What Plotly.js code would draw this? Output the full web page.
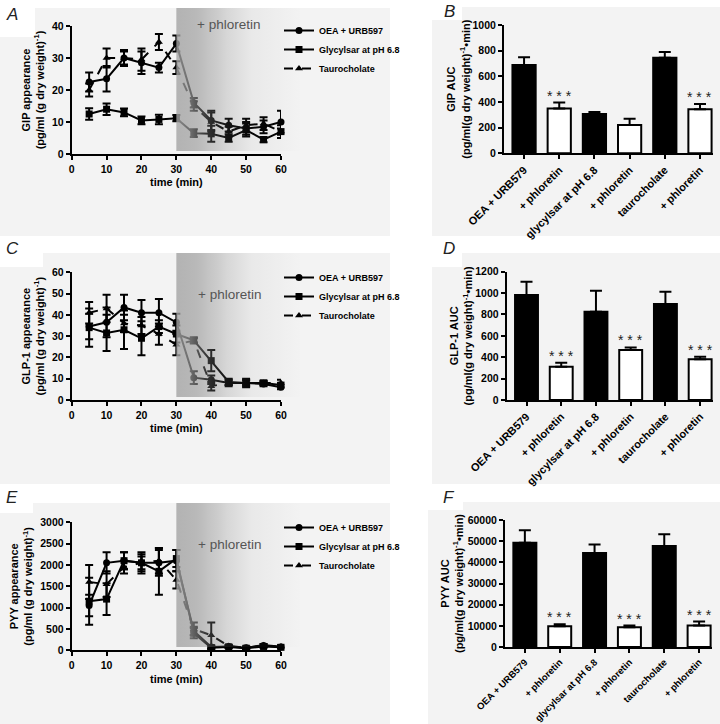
<!DOCTYPE html>
<html><head><meta charset="utf-8">
<script src="https://cdn.plot.ly/plotly-3.0.1.min.js"></script>
<style>html,body{margin:0;padding:0;background:#fff}#chart{width:720px;height:724px}</style>
</head><body><div id="chart"></div>
<script>
// ---------- data ----------
const timeMin = [5,10,15,20,25,30,35,40,45,50,55,60];
const seriesNames = ["OEA + URB597","Glycylsar at pH 6.8","Taurocholate"];
const phloretinStart = 30;
const shadeEnd = 66;

const gipOEA    = [22.5,23.5,30,28.5,27,34.5,16,10.5,9,8,8.5,10];
const gipOEAerr = [3,4,2.5,3.5,1.5,2.5,1.5,3,2,2,2,3.5];
const gipGly    = [12.5,14,13,10.5,10.8,11.2,6.5,6.3,5,7.5,4.5,7];
const gipGlyErr = [1.8,1.8,1.2,1.2,1.5,1,1.2,2.5,1.2,2,0.8,1];
const gipTau    = [20,30,30,29.5,35,27,15,10,7,9,9.5,7];
const gipTauErr = [2,3,2,3.5,2.5,2,1.5,3,1.5,2,2,2];

const glpOEA    = [34.5,36.5,43.5,41,41,36.5,10.5,9.5,8,8,7.5,6];
const glpOEAerr = [6,7,6,6,6.5,4,3,2,1.5,1.5,1,1];
const glpGly    = [34,31.5,33,29,34.5,31,28,18.5,8.5,8,8,7];
const glpGlyErr = [9,8.5,9,8,3,4,1,5,1.5,2,1,1];
const glpTau    = [41,43,36,35,31,26,28,6.5,8,8,8,8];
const glpTauErr = [5,6.5,4,4,5,5,1.5,2,1,1,1,1.5];

const pyyOEA    = [1050,2050,2100,2050,2050,2100,450,80,90,60,110,80];
const pyyOEAerr = [250,250,200,200,300,250,100,40,30,30,30,30];
const pyyGly    = [1150,1200,2100,2050,1850,2150,400,60,80,50,90,70];
const pyyGlyErr = [550,370,200,250,550,200,120,40,30,30,30,30];
const pyyTau    = [1600,1550,1950,2050,2100,1650,500,350,100,60,120,90];
const pyyTauErr = [400,300,150,150,300,200,150,300,30,30,30,30];

const barLabels = ["OEA + URB579","+ phloretin","glycylsar at pH 6.8","+ phloretin","taurocholate","+ phloretin"];
const gipAUC    = [688,350,306,221,745,343];
const gipAUCerr = [60,45,16,49,45,41];
const gipStars  = [false,true,false,false,false,true];
const glpAUC    = [982,312,826,468,898,380];
const glpAUCerr = [124,37,196,24,115,25];
const glpStars  = [false,true,false,true,false,true];
const pyyAUC    = [49200,9840,44375,9375,47660,10156];
const pyyAUCerr = [5950,940,4065,780,5620,1875];
const pyyStars  = [false,true,false,true,false,true];

// ---------- helpers ----------
const W=720,H=724;
const px = v => v/W;
const py = v => 1 - v/H;
const FONT = "Liberation Sans, Arial, sans-serif";
const symbols = ['circle','square','triangle-up'];
const dashes = ['solid','solid','dash'];
const barIdx = barLabels.map((_,i)=>i);
const barFill = barLabels.map((_,i)=> i%2===0 ? '#000' : '#fff');

function lineTrace(k, y, err, xa, ya, leg){
  return {type:'scatter', mode:'lines+markers', x:timeMin, y:y, name:seriesNames[k],
    xaxis:xa, yaxis:ya, legend:leg, cliponaxis:false, hoverinfo:'skip',
    line:{color:'#000', width:2, dash:dashes[k]},
    marker:{symbol:symbols[k], size:7, color:'#000'},
    error_y:{type:'data', array:err, visible:true, color:'#000', thickness:2, width:4}};
}
function barTrace(v, e, xa, ya){
  return {type:'bar', x:barIdx, y:v, xaxis:xa, yaxis:ya, width:0.66, showlegend:false, hoverinfo:'skip',
    marker:{color:barFill, line:{color:'#000', width:2}},
    error_y:{type:'data', symmetric:false, array:e, arrayminus:e.map(()=>0), color:'#000', thickness:2, width:6}};
}
const OVER_SCALE = [[0,'rgba(165,165,165,0.82)'],[0.12,'rgba(155,155,155,0.68)'],[0.25,'rgba(125,125,125,0.40)'],[0.4,'rgba(100,100,100,0.2)'],[0.6,'rgba(100,100,100,0.07)'],[1,'rgba(100,100,100,0)']];
function shadeTrace(xa, ya){
  return {type:'scatter', x:[phloretinStart,shadeEnd,shadeEnd,phloretinStart,phloretinStart], y:[0,0,1,1,0],
    xaxis:xa, yaxis:ya, mode:'none', fill:'toself', showlegend:false, hoverinfo:'skip',
    fillgradient:{type:'horizontal', start:phloretinStart, stop:shadeEnd, colorscale:OVER_SCALE}};
}

const traces = [
  lineTrace(0,gipOEA,gipOEAerr,'x','y','legend'),
  lineTrace(1,gipGly,gipGlyErr,'x','y','legend'),
  lineTrace(2,gipTau,gipTauErr,'x','y','legend'),
  barTrace(gipAUC,gipAUCerr,'x2','y2'),
  lineTrace(0,glpOEA,glpOEAerr,'x3','y3','legend2'),
  lineTrace(1,glpGly,glpGlyErr,'x3','y3','legend2'),
  lineTrace(2,glpTau,glpTauErr,'x3','y3','legend2'),
  barTrace(glpAUC,glpAUCerr,'x4','y4'),
  lineTrace(0,pyyOEA,pyyOEAerr,'x5','y5','legend3'),
  lineTrace(1,pyyGly,pyyGlyErr,'x5','y5','legend3'),
  lineTrace(2,pyyTau,pyyTauErr,'x5','y5','legend3'),
  barTrace(pyyAUC,pyyAUCerr,'x6','y6'),
  shadeTrace('x7','y7'),
  shadeTrace('x8','y8'),
  shadeTrace('x9','y9')
];

const tickFont = {family:FONT, size:10.5, color:'#000', weight:'bold'};
const titleFont = {family:FONT, size:11, color:'#000', weight:'bold'};
const axBase = {showgrid:false, zeroline:false, showline:true, linecolor:'#000', linewidth:2,
  ticks:'outside', ticklen:4, tickwidth:2, tickcolor:'#000', tickfont:tickFont, fixedrange:true, automargin:false};

function timeX(anchor){
  return Object.assign({}, axBase, {domain:[px(71.7),px(281)], range:[0,60], tick0:0, dtick:10, anchor:anchor,
    title:{text:'time (min)', font:titleFont, standoff:5}});
}
function timeY(anchor, top, bot, max, dt, title){
  return Object.assign({}, axBase, {domain:[py(bot),py(top)], range:[0,max], tick0:0, dtick:dt, anchor:anchor,
    tickformat:'d', title:{text:title, font:titleFont, standoff:5}});
}
function barX(anchor, x0, x1, fs){
  return Object.assign({}, axBase, {domain:[px(x0),px(x1)], range:[-0.57,5.37], tickvals:barIdx, ticktext:barLabels,
    tickangle:-45, tickfont:{family:FONT, size:fs, color:'#000', weight:'bold'}, anchor:anchor});
}
function barY(anchor, top, bot, max, dt, title, so){
  return Object.assign({}, axBase, {domain:[py(bot),py(top)], range:[0,max], tick0:0, dtick:dt, anchor:anchor,
    tickformat:'d', title:{text:title, font:titleFont, standoff:so}});
}
function overX(anchor){
  return {domain:[px(71.7), px(71.7 + shadeEnd*(281-71.7)/60)], range:[0,shadeEnd], visible:false, fixedrange:true, anchor:anchor};
}
function overY(anchor, top, bot){
  return {domain:[py(bot),py(top)], range:[0,1], visible:false, fixedrange:true, anchor:anchor};
}

const unitLine = '(pg/ml (g dry weight)<sup>-1</sup>)';
const aucLine = '(pg/ml(g dry weight)<sup>-1</sup>•min)';
const legFont = {family:FONT,size:9,weight:'bold',color:'#000'};

const layout = {
  width:W, height:H, margin:{l:0,r:0,t:0,b:0},
  paper_bgcolor:'#fff', plot_bgcolor:'rgba(0,0,0,0)',
  font:{family:FONT, color:'#000'},
  xaxis: timeX('y'),
  yaxis: timeY('x', 26, 154, 40, 10, 'GIP appearance<br>'+unitLine),
  xaxis2: barX('y2', 504, 713, 11),
  yaxis2: barY('x2', 25, 153.3, 1000, 200, 'GIP AUC<br>'+aucLine, 0),
  xaxis3: timeX('y3'),
  yaxis3: timeY('x3', 272.3, 400, 60, 10, 'GLP-1 appearance<br>'+unitLine),
  xaxis4: barX('y4', 506.7, 713, 11),
  yaxis4: barY('x4', 271.7, 400, 1200, 200, 'GLP-1 AUC<br>'+aucLine, 0),
  xaxis5: timeX('y5'),
  yaxis5: timeY('x5', 522.3, 650.3, 3000, 500, 'PYY appearance<br>'+unitLine),
  xaxis6: barX('y6', 505, 712, 9.5),
  yaxis6: barY('x6', 520, 647, 60000, 10000, 'PYY AUC<br>'+aucLine, 2),
  xaxis7: overX('y7'), yaxis7: overY('x7', 8, 151),
  xaxis8: overX('y8'), yaxis8: overY('x8', 253, 397),
  xaxis9: overX('y9'), yaxis9: overY('x9', 503, 647),
  legend:  {x:px(279), y:py(16), xanchor:'left', yanchor:'top', bgcolor:'rgba(0,0,0,0)', font:legFont},
  legend2: {x:px(279), y:py(263), xanchor:'left', yanchor:'top', bgcolor:'rgba(0,0,0,0)', font:legFont},
  legend3: {x:px(279), y:py(513), xanchor:'left', yanchor:'top', bgcolor:'rgba(0,0,0,0)', font:legFont},
  shapes: [],
  annotations: []
};

// panel backgrounds
const panels = [[0,8,390,236],[432,7,720,236],[0,253,390,484],[432,253,720,484],[0,503,390,724],[428,502,720,724]];
panels.forEach(p=>layout.shapes.push({type:'rect', xref:'paper', yref:'paper', x0:px(p[0]), x1:px(p[2]), y0:py(p[3]), y1:py(p[1]), fillcolor:'#f3f3f3', line:{width:0}, layer:'below'}));
const letterBoxes = [[0,0,35,37],[432,0,462,20],[0,237,43,267],[432,237,462,267],[0,484,33,513],[428,486,463,510]];
letterBoxes.forEach(p=>layout.shapes.push({type:'rect', xref:'paper', yref:'paper', x0:px(p[0]), x1:px(p[2]), y0:py(p[3]), y1:py(p[1]), fillcolor:'#fff', line:{width:0}, layer:'below'}));

// panel letters
[['A',12,14],['B',449,12],['C',12,248],['D',449,248],['E',12,497],['F',449,497]].forEach(l=>{
  layout.annotations.push({text:l[0], xref:'paper', yref:'paper', x:px(l[1]), y:py(l[2]), showarrow:false,
    xanchor:'center', yanchor:'middle', font:{family:FONT, size:17, style:'italic', color:'#222'}});
});
// phloretin labels
[[228,25],[230,294],[230,544]].forEach(p=>{
  layout.annotations.push({text:'+ phloretin', xref:'paper', yref:'paper', x:px(p[0]), y:py(p[1]), showarrow:false,
    xanchor:'center', yanchor:'middle', font:{family:FONT, size:13.5, color:'#555'}});
});
// significance stars
function addStars(vals, errs, flags, xa, ya){
  flags.forEach((f,i)=>{ if(f) layout.annotations.push({text:'* * *', xref:xa, yref:ya, x:i, y:vals[i]+errs[i],
    showarrow:false, xanchor:'center', yanchor:'bottom', yshift:-3, font:{family:FONT, size:14, color:'#222'}}); });
}
addStars(gipAUC,gipAUCerr,gipStars,'x2','y2');
addStars(glpAUC,glpAUCerr,glpStars,'x4','y4');
addStars(pyyAUC,pyyAUCerr,pyyStars,'x6','y6');

Plotly.newPlot('chart', traces, layout, {displayModeBar:false, staticPlot:true});
</script></body></html>
